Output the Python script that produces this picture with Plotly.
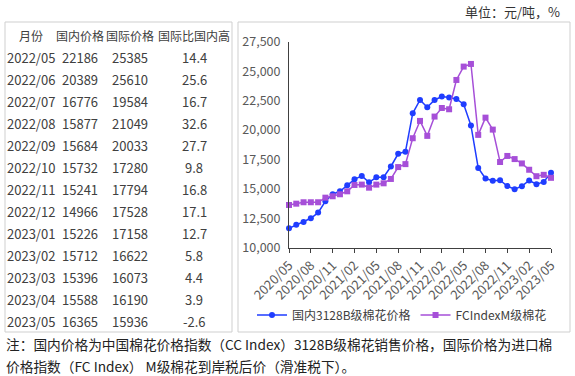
import plotly.graph_objects as go

# ---------------- data ----------------
months = ["2020/05","2020/06","2020/07","2020/08","2020/09","2020/10","2020/11","2020/12",
          "2021/01","2021/02","2021/03","2021/04","2021/05","2021/06","2021/07","2021/08",
          "2021/09","2021/10","2021/11","2021/12","2022/01","2022/02","2022/03","2022/04",
          "2022/05","2022/06","2022/07","2022/08","2022/09","2022/10","2022/11","2022/12",
          "2023/01","2023/02","2023/03","2023/04","2023/05"]
domestic = [11650, 11950, 12180, 12500, 12980, 13940, 14540, 14790,
            15300, 15810, 16100, 15560, 15980, 15990, 16900, 17980,
            18160, 21420, 22550, 21930, 22550, 22840, 22750, 22640,
            22186, 20389, 16776, 15877, 15684, 15732, 15241, 14966,
            15226, 15712, 15396, 15588, 16365]
international = [13630, 13740, 13860, 13860, 13860, 14250, 14370, 14540,
                 14790, 15330, 15360, 15100, 15360, 15470, 15840, 16850,
                 17100, 19300, 20770, 19500, 21140, 21870, 21760, 24250,
                 25385, 25610, 19584, 21049, 20033, 17280, 17794, 17528,
                 17158, 16622, 16073, 16190, 15936]

table_header = ["月份", "国内价格", "国际价格", "国际比国内高"]
table_months = ["2022/05","2022/06","2022/07","2022/08","2022/09","2022/10","2022/11",
                "2022/12","2023/01","2023/02","2023/03","2023/04","2023/05"]
table_dom = ["22186","20389","16776","15877","15684","15732","15241","14966","15226",
             "15712","15396","15588","16365"]
table_int = ["25385","25610","19584","21049","20033","17280","17794","17528","17158",
             "16622","16073","16190","15936"]
table_diff = ["14.4","25.6","16.7","32.6","27.7","9.8","16.8","17.1","12.7","5.8",
              "4.4","3.9","-2.6"]

series_names = ["国内3128B级棉花价格", "FCIndexM级棉花"]
unit_text = "单位：元/吨，%"
note_lines = ["注：国内价格为中国棉花价格指数（CC Index）3128B级棉花销售价格，国际价格为进口棉",
              "价格指数（FC Index） M级棉花到岸税后价（滑准税下）。"]

W, H = 575, 376
FONT = "Noto Sans CJK SC"
BLUE = "#1f3dff"
PURPLE = "#a64fd8"


def px(x):
    return x / W


def py(y):
    return 1 - y / H


idx = list(range(len(months)))
tick_idx = idx[::3]
tick_txt = months[::3]

fig = go.Figure()
fig.add_trace(go.Scatter(x=idx, y=domestic, name=series_names[0], mode="lines+markers",
                         line=dict(color=BLUE, width=1.5),
                         marker=dict(symbol="circle", size=6, color=BLUE),
                         cliponaxis=False))
fig.add_trace(go.Scatter(x=idx, y=international, name=series_names[1], mode="lines+markers",
                         line=dict(color=PURPLE, width=1.5),
                         marker=dict(symbol="square", size=6, color=PURPLE),
                         cliponaxis=False))

x0, x1 = 289, 551
y_top, y_bot = 41.7, 247.7

anns = []
col_x = [31, 80, 130, 194]
for cx, t in zip(col_x, table_header):
    anns.append(dict(x=px(cx), y=py(35), xref="paper", yref="paper", text=t,
                     showarrow=False, xanchor="center", yanchor="middle",
                     font=dict(size=12, color="#404040", family=FONT)))
for i in range(len(table_months)):
    yy = 57.7 + 22 * i
    row = [table_months[i], table_dom[i], table_int[i], table_diff[i]]
    for cx, t in zip(col_x, row):
        anns.append(dict(x=px(cx), y=py(yy), xref="paper", yref="paper", text=t,
                         showarrow=False, xanchor="center", yanchor="middle",
                         font=dict(size=13, color="#404040", family=FONT)))
anns.append(dict(x=px(562), y=py(11), xref="paper", yref="paper", text=unit_text,
                 showarrow=False, xanchor="right", yanchor="middle",
                 font=dict(size=13, color="#333333", family=FONT)))
for k, line in enumerate(note_lines):
    anns.append(dict(x=px(4), y=py(344 + 22 * k), xref="paper", yref="paper", text=line,
                     showarrow=False, xanchor="left", yanchor="middle",
                     font=dict(size=13.7, color="#222222", family=FONT)))

fig.update_layout(
    width=W, height=H, autosize=False,
    margin=dict(l=0, r=0, t=0, b=0, pad=0, autoexpand=False),
    paper_bgcolor="white", plot_bgcolor="white",
    font=dict(family=FONT, color="#404040"),
    xaxis=dict(domain=[px(x0), px(x1)], range=[0, 36], tickmode="array",
               tickvals=tick_idx, ticktext=tick_txt, tickangle=-45, automargin=False,
               showgrid=False, zeroline=False, showline=True, linecolor="#404040",
               linewidth=1, ticks="outside", ticklen=4, tickcolor="#404040",
               tickfont=dict(size=13, color="#595959", family=FONT)),
    yaxis=dict(domain=[py(y_bot), py(y_top)], range=[10000, 27500], automargin=False,
               tickvals=[10000, 12500, 15000, 17500, 20000, 22500, 25000, 27500],
               tickformat=",", showgrid=False, zeroline=False, showline=True,
               linecolor="#404040", linewidth=1, ticks="", ticklabelstandoff=5,
               tickfont=dict(size=12.5, color="#595959", family=FONT)),
    showlegend=True,
    legend=dict(orientation="h", x=px(252), y=py(315), xanchor="left", yanchor="middle",
                font=dict(size=12, color="#404040", family=FONT),
                bgcolor="rgba(0,0,0,0)"),
    shapes=[
        dict(type="rect", xref="paper", yref="paper", x0=px(5), x1=px(232),
             y0=py(332), y1=py(22), line=dict(color="#cfcfcf", width=1)),
        dict(type="rect", xref="paper", yref="paper", x0=px(238), x1=px(570),
             y0=py(332), y1=py(22), line=dict(color="#cfcfcf", width=1)),
    ],
    annotations=anns,
)

fig.write_html("out.html", config={"displayModeBar": False},
               post_script="document.body.style.margin='0';document.body.style.padding='0';")
